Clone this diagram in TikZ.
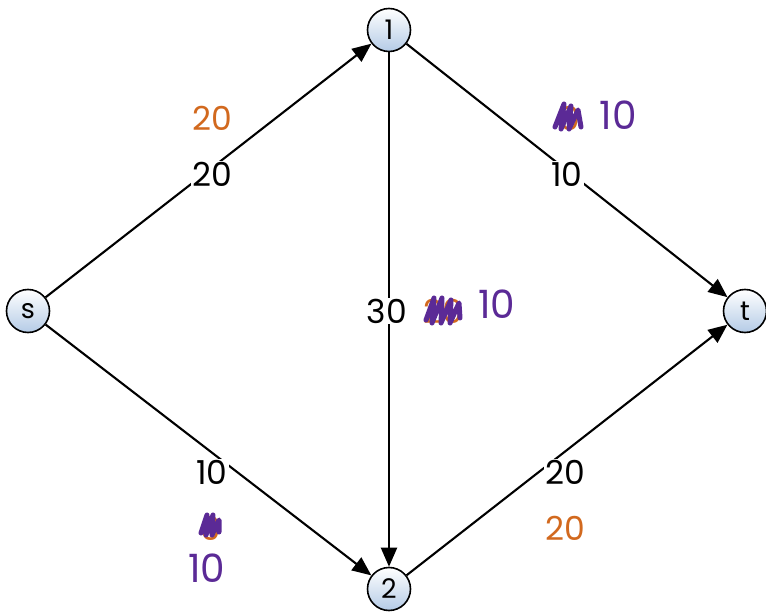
\documentclass[tikz,border=0pt]{standalone}
\usepackage{fontspec}
\setmainfont{Poppins}
\usetikzlibrary{arrows.meta}
\definecolor{purp}{HTML}{5B2A96}
\definecolor{org}{HTML}{D2691E}
\definecolor{nodeblue}{HTML}{B4CBE6}
\begin{document}
\begin{tikzpicture}[x=1pt,y=-1pt,
  vert/.style={circle, draw=black, line width=1.6pt, minimum size=43pt, inner sep=0pt,
    top color=white, bottom color=nodeblue, font=\fontsize{27}{27}\selectfont},
  edge/.style={line width=2.1pt, -{Triangle[length=19pt,width=16pt]}},
  caplabel/.style={fill=white, inner sep=1pt, font=\fontsize{33}{33}\selectfont},
  flow/.style={text=org, inner sep=0pt, font=\fontsize{33}{33}\selectfont},
  hand/.style={text=purp, inner sep=0pt, font=\fontsize{39}{39}\selectfont},
  scrib/.style={draw=purp, line width=5pt, line join=round, line cap=round}
]
\useasboundingbox (0,0) rectangle (766,612);

\node[vert] (n1) at (389,30) {1};
\node[vert] (s) at (28,311) {s};
\node[vert] (t) at (745,311) {t};
\node[vert] (n2) at (389,589) {2};

\draw[edge] (s) -- (n1);
\draw[edge] (n1) -- (t);
\draw[edge] (n1) -- (n2);
\draw[edge] (s) -- (n2);
\draw[edge] (n2) -- (t);

% capacities
\node[caplabel] (c1) at (212,174) {20};
\node[caplabel] (c2) at (567,174) {10};
\node[caplabel] (c3) at (387,311) {30};
\node[caplabel] (c4) at (212,472) {10};
\node[caplabel] (c5) at (565,472) {20};

% flows
\node[flow] (f1) at (212,118) {20};
\node[flow] (f5) at (565,528) {20};

% 1-t crossed flow
\node[flow] (f2) at (570,118) {0};
\draw[scrib] (555,127) -- (564,104) -- (561,129) -- (571,106) -- (569,129) -- (578,110) -- (581,127);
\node[hand] (h2) at (618,115) {10};

% 1-2 crossed flow
\node[flow] (f3) at (443,311) {20};
\draw[scrib] (426,320) -- (434,298) -- (432,323) -- (442,298) -- (441,323) -- (451,300) -- (450,323) -- (459,303) -- (460,318);
\node[hand] (h3) at (497,304) {10};

% s-2 crossed flow
\node[flow] (f4) at (211,528) {0};
\draw[scrib] (201,533) -- (207,515) -- (206,535) -- (213,515) -- (212,535) -- (219,520) -- (219,532);
\node[hand] (h4) at (207,568) {10};
\end{tikzpicture}
\end{document}
